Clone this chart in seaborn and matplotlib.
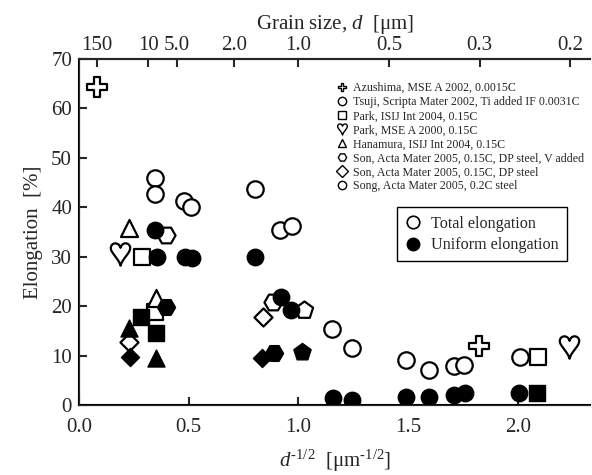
import seaborn as sns
import pandas as pd
import numpy as np
import matplotlib
matplotlib.use('Agg')
from matplotlib import pyplot as plt
from matplotlib.lines import Line2D

sns.set_style('ticks')
plt.rcParams['font.family'] = ['Liberation Serif', 'DejaVu Serif']
plt.rcParams['mathtext.fontset'] = 'custom'
plt.rcParams['mathtext.rm'] = 'Liberation Serif'
plt.rcParams['mathtext.it'] = 'Liberation Serif:italic'

HEART = '$\u2665$'

# dataset labels and markers
labels = ['Azushima, MSE A 2002, 0.0015C',
          'Tsuji, Scripta Mater 2002, Ti added IF 0.0031C',
          'Park, ISIJ Int 2004, 0.15C',
          'Park, MSE A 2000, 0.15C',
          'Hanamura, ISIJ Int 2004, 0.15C',
          'Son, Acta Mater 2005, 0.15C, DP steel, V added',
          'Son, Acta Mater 2005, 0.15C, DP steel',
          'Song, Acta Mater 2005, 0.2C steel',
          '_other']
markers = ['P', 'o', 's', HEART, '^', 'H', 'D', 'o', 'p']

# total elongation (open symbols): x = d^-1/2, y = %
tot_x = [[0.082, 1.82],
         [0.345, 0.345, 0.477, 0.509, 0.80],
         [0.285, 0.345, 2.09],
         [0.186, 2.23],
         [0.227, 0.35],
         [0.395, 0.882],
         [0.227, 0.84],
         [0.917, 0.97, 1.153, 1.246, 1.49, 1.595, 1.71, 1.755, 2.01],
         [1.027]]
tot_y = [[64.3, 12.0],
         [45.9, 42.7, 41.3, 40.1, 43.7],
         [30.0, 18.9, 9.7],
         [30.5, 11.8],
         [35.8, 21.6],
         [34.4, 20.9],
         [12.8, 17.9],
         [35.4, 36.3, 15.4, 11.5, 9.1, 7.1, 7.9, 8.1, 9.8],
         [19.2]]

# uniform elongation (filled symbols)
uni_x = [[],
         [0.345, 0.355, 0.482, 0.513, 0.80],
         [0.282, 0.35, 2.087],
         [],
         [0.227, 0.35],
         [0.395, 0.89],
         [0.232, 0.836],
         [0.921, 0.967, 1.155, 1.246, 1.49, 1.595, 1.71, 1.76, 2.005],
         [1.018]]
uni_y = [[],
         [35.4, 30.0, 29.9, 29.7, 30.0],
         [17.9, 14.6, 2.4],
         [],
         [15.6, 9.5],
         [19.8, 10.5],
         [9.8, 9.5],
         [21.9, 19.2, 1.4, 1.0, 1.7, 1.7, 2.0, 2.5, 2.4],
         [10.8]]

grain_ticks = [150, 10, 5.0, 2.0, 1.0, 0.5, 0.3, 0.2]
grain_labels = ['150', '10', '5.0', '2.0', '1.0', '0.5', '0.3', '0.2']

rows = []
for i in range(len(labels)):
    for x, y in zip(tot_x[i], tot_y[i]):
        rows.append({'set': i, 'kind': 'total', 'x': x, 'y': y})
    for x, y in zip(uni_x[i], uni_y[i]):
        rows.append({'set': i, 'kind': 'uniform', 'x': x, 'y': y})
data = pd.DataFrame(rows)

sizes = {'o': 140, 's': 120, 'P': 190, '^': 150, 'H': 170, 'D': 85,
         'p': 170, HEART: 260}

fig = plt.figure(figsize=(5.92, 4.75), dpi=100)
ax = fig.add_axes([0.1334, 0.147, 0.864, 0.729])

for kind in ['total', 'uniform']:
    for i, m in enumerate(markers):
        sub = data[(data['set'] == i) & (data['kind'] == kind)]
        if len(sub) == 0:
            continue
        if kind == 'total':
            sns.scatterplot(x='x', y='y', data=sub, marker=m, s=sizes[m],
                            color='white', edgecolor='black', linewidth=1.6,
                            ax=ax, zorder=3)
        else:
            sns.scatterplot(x='x', y='y', data=sub, marker=m, s=sizes[m],
                            color='black', edgecolor='black', linewidth=1.0,
                            ax=ax, zorder=4)

ax.set_xlim(0, 2.33)
ax.set_ylim(0, 70)
ax.set_xticks([0, 0.5, 1.0, 1.5, 2.0])
ax.set_xticklabels(['0.0', '0.5', '1.0', '1.5', '2.0'])
ax.set_yticks(range(0, 71, 10))
ax.set_xlabel('$d^{\u20101/2}$  [μm$^{\u20101/2}$]', fontsize=15, labelpad=8)
ax.set_ylabel('Elongation  [%]', fontsize=15, labelpad=6)
ax.tick_params(direction='in', length=6, width=1.5, labelsize=15)
ax.tick_params(axis='x', pad=9)
ax.tick_params(axis='y', pad=5)
for s in ['left', 'bottom', 'top']:
    ax.spines[s].set_linewidth(1.5)
    ax.spines[s].set_color('black')
ax.spines['right'].set_visible(False)

top = ax.twiny()
top.set_xlim(ax.get_xlim())
top.set_xticks([g ** -0.5 for g in grain_ticks])
top.set_xticklabels(grain_labels)
top.tick_params(direction='in', length=6, width=1.5, labelsize=15, pad=3)
top.set_xlabel('Grain size, $d$  [μm]', fontsize=15, labelpad=5)
top.spines['right'].set_visible(False)
top.spines['top'].set_linewidth(1.5)

# dataset legend
h1 = []
for i, m in enumerate(markers[:-1]):
    ms = 8 if m == HEART else 6
    h1.append(Line2D([], [], ls='', marker=m, markersize=ms,
                     markerfacecolor='white', markeredgecolor='black',
                     markeredgewidth=1.0))
leg1 = ax.legend(h1, labels[:-1], loc='upper left',
                 bbox_to_anchor=(0.49, 0.95), frameon=False, fontsize=8.6,
                 handlelength=1.0, handletextpad=0.5, labelspacing=0.17,
                 borderpad=0)
ax.add_artist(leg1)

h2 = [Line2D([], [], ls='', marker='o', markersize=9, markerfacecolor='white',
             markeredgecolor='black', markeredgewidth=1.2),
      Line2D([], [], ls='', marker='o', markersize=9, markerfacecolor='black',
             markeredgecolor='black')]
leg2 = ax.legend(h2, ['Total elongation', 'Uniform elongation'],
                 loc='upper left', bbox_to_anchor=(0.622, 0.571),
                 fancybox=False, edgecolor='black', fontsize=11.6,
                 handlelength=1.0, handletextpad=0.6, labelspacing=0.35,
                 borderpad=0.5, borderaxespad=0, framealpha=1)
leg2.get_frame().set_linewidth(1.0)

fig.savefig('out.png', dpi=100)
